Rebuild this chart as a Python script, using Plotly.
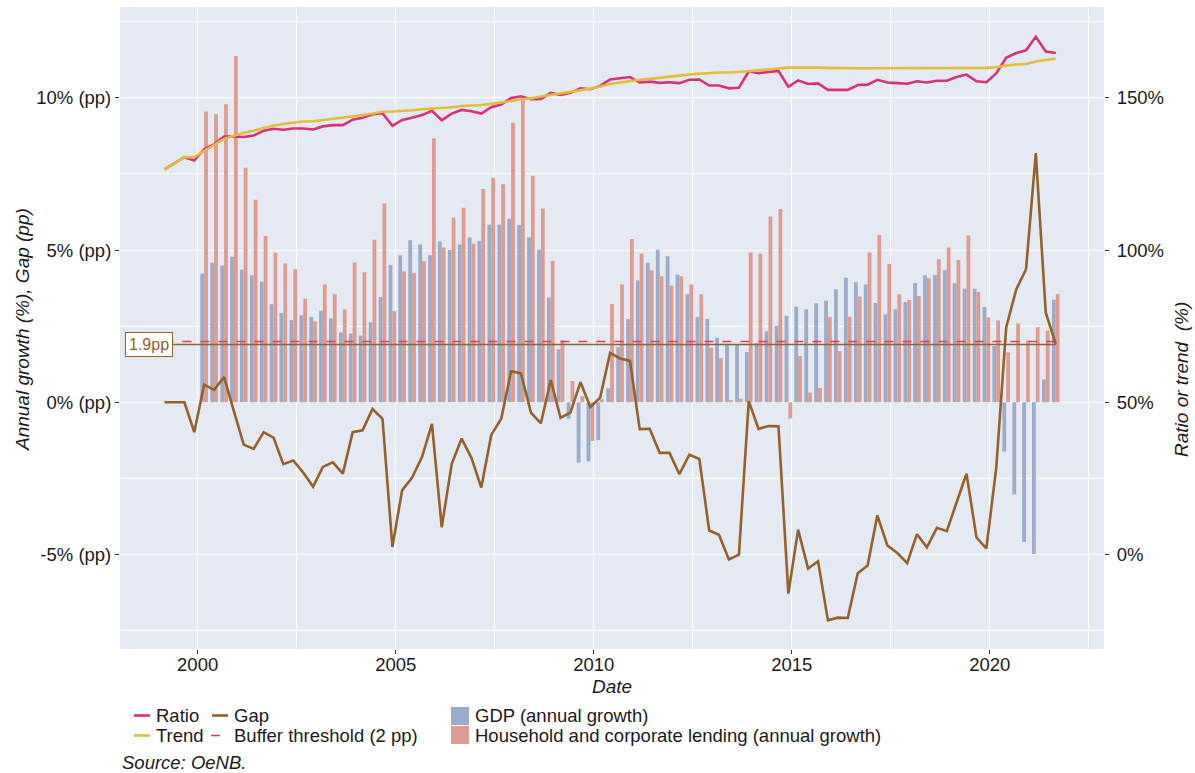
import plotly.graph_objects as go

# ---------------- data ----------------
line_quarters = [f"{y}Q{q}" for y in range(1999, 2022) for q in range(1, 5)][:91]   # 1999Q1 .. 2021Q3
bar_quarters = line_quarters[4:]                                                        # 2000Q1 .. 2021Q3

ratio = [126.5, 128.5, 130.5, 129.4,
         133.1, 134.8, 137.3, 137.3,
         137.1, 137.6, 139.2, 139.8,
         139.5, 139.9, 139.9, 139.6,
         140.6, 141.0, 141.0, 142.8,
         143.4, 144.6, 144.9, 140.8,
         142.7, 143.4, 144.3, 145.7,
         142.6, 144.8, 146.0, 145.6,
         144.8, 146.9, 147.8, 149.9,
         150.5, 149.5, 149.6, 151.6,
         150.9, 151.6, 153.1, 152.8,
         153.9, 156.0, 156.4, 156.8,
         155.0, 155.3, 154.9, 155.1,
         154.8, 155.9, 156.0, 154.0,
         154.0, 153.1, 153.3, 158.7,
         158.1, 158.5, 158.8, 153.6,
         155.7, 154.5, 154.7, 152.6,
         152.6, 152.6, 154.2, 154.3,
         155.9, 155.0, 154.8, 154.6,
         155.4, 155.0, 155.6, 155.6,
         156.8, 157.6, 155.4, 155.1,
         158.0, 163.1, 164.7, 165.6,
         170.0, 165.2, 164.7]

trend = [126.5, 128.5, 130.5, 130.5,
         132.6, 134.5, 136.5, 137.6,
         138.5, 139.2, 140.1, 140.9,
         141.4, 141.8, 142.2, 142.3,
         142.7, 143.0, 143.3, 143.8,
         144.3, 144.8, 145.4, 145.5,
         145.6, 145.9, 146.2, 146.4,
         146.7, 146.9, 147.3, 147.4,
         147.6, 148.0, 148.4, 148.9,
         149.5, 149.8, 150.4, 150.9,
         151.4, 152.0, 152.5, 153.0,
         153.7, 154.5, 155.0, 155.5,
         155.9, 156.2, 156.6, 156.8,
         157.2, 157.6, 157.9, 158.2,
         158.3, 158.3, 158.4, 158.7,
         159.0, 159.3, 159.6, 159.9,
         159.9, 160.0, 159.9, 159.8,
         159.7, 159.7, 159.7, 159.7,
         159.7, 159.7, 159.7, 159.7,
         159.7, 159.7, 159.8, 159.8,
         159.8, 159.8, 159.8, 159.8,
         160.0, 160.6, 160.9, 161.1,
         161.9, 162.4, 162.9]

gap = [0.0, 0.0, 0.0, -0.98,
       0.58, 0.41, 0.83, -0.3,
       -1.39, -1.53, -0.98, -1.16,
       -2.03, -1.91, -2.31, -2.77,
       -2.12, -1.97, -2.34, -0.98,
       -0.92, -0.22, -0.54, -4.75,
       -2.89, -2.47, -1.79, -0.71,
       -4.10, -2.03, -1.19, -1.83,
       -2.80, -1.07, -0.54, 1.02,
       0.95, -0.34, -0.69, 0.73,
       -0.51, -0.33, 0.66, -0.15,
       0.15, 1.62, 1.44, 1.36,
       -0.88, -0.87, -1.66, -1.66,
       -2.36, -1.72, -1.86, -4.21,
       -4.35, -5.16, -5.00, 0.04,
       -0.87, -0.78, -0.79, -6.28,
       -4.18, -5.46, -5.22, -7.16,
       -7.07, -7.08, -5.61, -5.36,
       -3.71, -4.70, -4.95, -5.28,
       -4.33, -4.76, -4.12, -4.23,
       -3.26, -2.34, -4.44, -4.80,
       -2.16, 2.46, 3.70, 4.37,
       8.18, 2.94, 1.92]

gdp_growth = [4.22, 4.58, 4.49, 4.78,
              4.35, 4.17, 3.96, 3.22,
              2.93, 2.70, 2.86, 2.80,
              3.01, 2.76, 2.30, 2.26,
              2.19, 2.63, 3.46, 4.51,
              4.83, 5.32, 5.18, 4.83,
              5.28, 5.00, 5.18, 5.41,
              5.30, 5.83, 5.83, 6.03,
              5.82, 5.42, 5.01, 3.44,
              1.74, -0.54, -1.98, -1.94,
              -1.24, 0.46, 1.81, 2.73,
              4.00, 4.58, 5.01, 4.80,
              4.20, 3.55, 2.80, 2.74,
              2.12, 1.91, 1.91, 1.65,
              1.95, 2.33, 2.51, 2.84,
              3.14, 3.05, 3.25, 3.34,
              3.71, 4.09, 3.94, 3.87,
              3.26, 2.89, 3.05, 3.29,
              3.92, 4.17, 4.18, 4.34,
              3.91, 3.73, 3.73, 3.13,
              1.85, -1.62, -3.02, -4.59,
              -4.98, 0.75, 3.37]

lending_growth = [9.55, 9.46, 9.79, 11.37,
                  7.70, 6.65, 5.46, 4.91,
                  4.56, 4.37, 3.40, 2.66,
                  3.87, 3.55, 3.05, 4.59,
                  4.27, 5.34, 6.53, 3.00,
                  4.30, 4.25, 4.63, 8.67,
                  5.08, 6.06, 6.39, 5.21,
                  7.00, 7.37, 7.16, 9.18,
                  9.95, 7.44, 6.36, 4.64,
                  2.03, 0.70, 0.20, -1.27,
                  0.10, 3.23, 3.87, 5.36,
                  4.89, 4.34, 4.14, 3.83,
                  4.14, 3.87, 3.55, 1.79,
                  1.45, 0.07, 0.12, 4.92,
                  4.88, 6.10, 6.35, -0.53,
                  1.52, 0.32, 0.47, 2.80,
                  1.68, 2.81, 3.47, 4.92,
                  5.49, 4.54, 3.55, 3.36,
                  3.49, 4.08, 4.70, 5.08,
                  4.67, 5.48, 3.63, 2.79,
                  2.69, 1.64, 2.59, 2.03,
                  2.47, 2.36, 3.55]

buffer_threshold = 2.0
last_gap_label = 1.9

left_ticks = [-5, 0, 5, 10]
left_ticktext = ["-5% (pp)", "0% (pp)", "5% (pp)", "10% (pp)"]
right_ticks = [0, 50, 100, 150]
right_ticktext = ["0%", "50%", "100%", "150%"]
year_ticks = [2000, 2005, 2010, 2015, 2020]

legend_labels = ["Ratio", "Gap", "Trend", "Buffer threshold (2 pp)",
                 "GDP (annual growth)", "Household and corporate lending (annual growth)"]


def qdate(q):
    y, n = q.split("Q")
    return f"{y}-{int(n) * 3:02d}-01"


line_x = [qdate(q) for q in line_quarters]
bar_x = [qdate(q) for q in bar_quarters]

# ---------------- style ----------------
FONT = "Arial, Liberation Sans, sans-serif"
TXT = "#1a1a1a"
C_RATIO = "#D6317A"
C_TREND = "#E2BD3C"
C_GAP = "#94602C"
C_BUF = "#D93A72"
C_GDP = "#9AACC9"
C_LEND = "#DE9C90"
BG = "#E5EAF2"

W, H = 1195, 773
# plot area in window pixels: x 120..1104, y 7..649
L, R, T, B = 120, W - 1104, 7, H - 649
PW, PH = W - L - R, H - T - B


def px(xs):
    return (xs - L) / PW


def py(ys):
    return (H - B - ys) / PH


y_lo, y_hi = -8.10, 12.98

fig = go.Figure()

fig.add_trace(go.Bar(x=bar_x, y=gdp_growth, name=legend_labels[4],
                     marker=dict(color=C_GDP, line=dict(width=0))))
fig.add_trace(go.Bar(x=bar_x, y=lending_growth, name=legend_labels[5],
                     marker=dict(color=C_LEND, line=dict(width=0))))

fig.add_trace(go.Scatter(x=line_x, y=gap, name=legend_labels[1], mode="lines",
                         line=dict(color=C_GAP, width=2.6)))
fig.add_trace(go.Scatter(x=[line_x[0], line_x[-1]], y=[buffer_threshold] * 2,
                         name=legend_labels[3], mode="lines",
                         line=dict(color=C_BUF, width=1.5, dash="dash")))
fig.add_trace(go.Scatter(x=[line_x[0], line_x[-1]], y=[last_gap_label] * 2,
                         name="Latest gap", mode="lines",
                         line=dict(color=C_GAP, width=1.5)))

fig.add_trace(go.Scatter(x=line_x, y=ratio, name=legend_labels[0], mode="lines", yaxis="y2",
                         line=dict(color=C_RATIO, width=2.6)))
fig.add_trace(go.Scatter(x=line_x, y=trend, name=legend_labels[2], mode="lines", yaxis="y2",
                         line=dict(color=C_TREND, width=2.6)))

x_lo, x_hi = "1998-01-15", "2022-11-20"
minor_x = [f"{y}-07-02" for y in range(1997, 2023, 5)]

fig.update_layout(
    width=W, height=H,
    margin=dict(l=L, r=R, t=T, b=B, pad=0),
    paper_bgcolor="white",
    plot_bgcolor=BG,
    showlegend=False,
    barmode="group", bargap=0.22, bargroupgap=0.0,
    font=dict(family=FONT, size=18, color=TXT),
    xaxis=dict(type="date", range=[x_lo, x_hi],
               tickvals=[f"{y}-01-01" for y in year_ticks], ticktext=[str(y) for y in year_ticks],
               showgrid=True, gridcolor="white", gridwidth=1.4,
               minor=dict(tickvals=minor_x, showgrid=True, gridcolor="white", gridwidth=0.7),
               ticks="outside", ticklen=4, tickcolor="#333333", tickwidth=1,
               ticklabelstandoff=-5,
               zeroline=False, showline=False,
               tickfont=dict(size=18.5, color=TXT)),
    yaxis=dict(range=[y_lo, y_hi], tickvals=left_ticks, ticktext=left_ticktext,
               showgrid=True, gridcolor="white", gridwidth=1.4,
               minor=dict(tickvals=[-7.5, -2.5, 2.5, 7.5, 12.5], showgrid=True,
                          gridcolor="white", gridwidth=0.7),
               ticks="outside", ticklen=4, tickcolor="#333333", tickwidth=1,
               zeroline=False, showline=False,
               tickfont=dict(size=18.5, color=TXT)),
    yaxis2=dict(range=[50 + 10 * y_lo, 50 + 10 * y_hi], overlaying="y", side="right",
                tickvals=right_ticks, ticktext=right_ticktext,
                showgrid=False, zeroline=False, showline=False,
                ticks="outside", ticklen=4, tickcolor="#333333", tickwidth=1,
                ticklabelstandoff=4,
                tickfont=dict(size=18.5, color=TXT)),
)

# ---------------- legend (drawn below the plot) ----------------
shapes = []
annotations = []
LEG_FONT = dict(family=FONT, size=18.5, color=TXT)


def leg_line(x0, x1, ys, color, dash="solid", width=2.6):
    shapes.append(dict(type="line", xref="paper", yref="paper",
                       x0=px(x0), x1=px(x1), y0=py(ys), y1=py(ys),
                       line=dict(color=color, width=width, dash=dash)))


def leg_box(x0, x1, y0, y1, color):
    shapes.append(dict(type="rect", xref="paper", yref="paper",
                       x0=px(x0), x1=px(x1), y0=py(y1), y1=py(y0),
                       fillcolor=color, line=dict(width=0)))


def leg_text(text, xs, ys):
    annotations.append(dict(text=text, xref="paper", yref="paper", x=px(xs), y=py(ys),
                            xanchor="left", yanchor="middle", showarrow=False,
                            borderpad=0, font=LEG_FONT))


ROW1, ROW2 = 715.5, 735.5
leg_line(134, 150, ROW1, C_RATIO)
leg_text(legend_labels[0], 155, ROW1)
leg_line(212, 228, ROW1, C_GAP)
leg_text(legend_labels[1], 233, ROW1)
leg_line(134, 150, ROW2, C_TREND)
leg_text(legend_labels[2], 155, ROW2)
leg_line(211, 229, ROW2, C_BUF, dash="dash", width=1.6)
leg_text(legend_labels[3], 233, ROW2)
leg_box(451, 469, 707, 725, C_GDP)
leg_text(legend_labels[4], 474, ROW1)
leg_box(451, 469, 726, 744, C_LEND)
leg_text(legend_labels[5], 474, ROW2)

annotations += [
    dict(text="<i>Annual growth (%), Gap (pp)</i>", xref="paper", yref="paper",
         x=px(22), y=py(330), textangle=-90, showarrow=False,
         xanchor="center", yanchor="middle",
         font=dict(family=FONT, size=19, color=TXT)),
    dict(text="<i>Ratio or trend  (%)</i>", xref="paper", yref="paper",
         x=px(1181), y=py(380), textangle=-90, showarrow=False,
         xanchor="center", yanchor="middle",
         font=dict(family=FONT, size=19, color=TXT)),
    dict(text="<i>Date</i>", xref="paper", yref="paper",
         x=px(612), y=py(687), showarrow=False, xanchor="center", yanchor="middle",
         font=dict(family=FONT, size=19, color=TXT)),
    dict(text="<i>Source: OeNB.</i>", xref="paper", yref="paper",
         x=px(120), y=py(763), xanchor="left", yanchor="middle", showarrow=False,
         font=dict(family=FONT, size=18.5, color=TXT)),
    dict(text=f"{last_gap_label}pp", xref="x", yref="y",
         x="1998-10-13", y=last_gap_label, showarrow=False,
         bgcolor="white", bordercolor=C_GAP, borderwidth=1, borderpad=3,
         font=dict(family=FONT, size=16, color=C_GAP)),
]

fig.update_layout(shapes=shapes, annotations=annotations)

# the page body default margin would push the figure 8px in; remove it
fig.write_html("out.html",
               config={"displayModeBar": False},
               post_script="document.body.style.margin='0px';document.body.style.overflow='hidden';")
